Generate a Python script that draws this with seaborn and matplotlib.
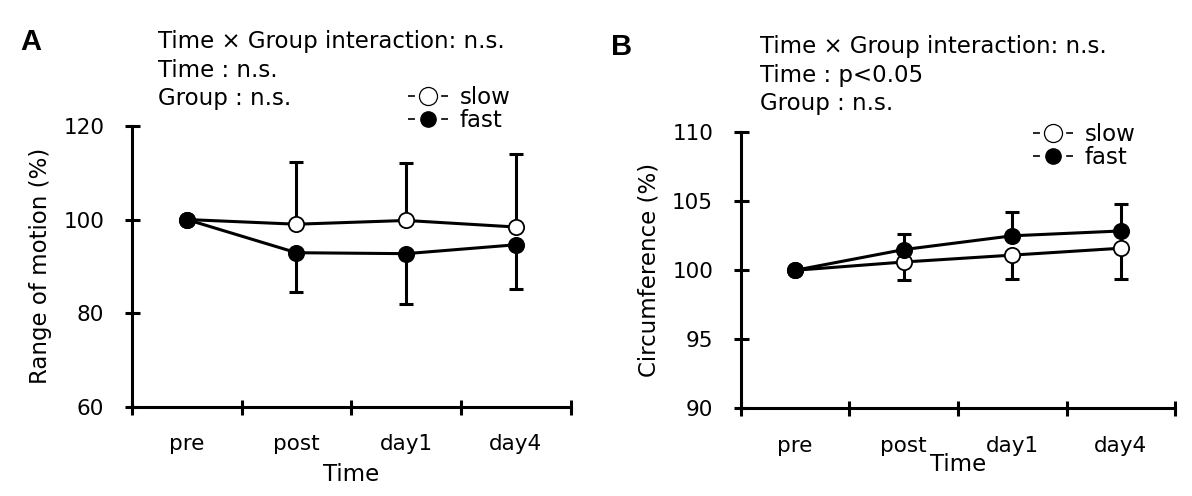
import numpy as np
import pandas as pd
import matplotlib
matplotlib.use("Agg")
import matplotlib.pyplot as plt
from matplotlib.lines import Line2D
import seaborn as sns

times = ["pre", "post", "day1", "day4"]

# panel A: range of motion (%)
rom_slow = [100, 99.0, 99.8, 98.4]
rom_slow_sd = [0, 13.2, 12.2, 15.6]
rom_fast = [100, 92.9, 92.7, 94.6]
rom_fast_sd = [0, 8.4, 10.7, 9.5]

# panel B: circumference (%)
circ_slow = [100, 100.6, 101.1, 101.6]
circ_slow_sd = [0, 1.3, 1.7, 2.2]
circ_fast = [100, 101.5, 102.5, 102.85]
circ_fast_sd = [0, 1.1, 1.75, 1.95]

sns.set_style("white", rc={"text.color": "black", "axes.labelcolor": "black",
                           "xtick.color": "black", "ytick.color": "black"})
plt.rcParams["font.family"] = ["DejaVu Sans"]

fig = plt.figure(figsize=(11.92, 4.96), dpi=100)
axA = fig.add_axes([0.1107, 0.1804, 0.368, 0.5655])
axB = fig.add_axes([0.6214, 0.1768, 0.3646, 0.5565])

x = np.arange(len(times))


def draw_panel(ax, slow, slow_sd, fast, fast_sd, slow_up, ylim, yticks, ylabel):
    df = pd.DataFrame({"x": np.concatenate([x, x]),
                       "value": slow + fast,
                       "group": ["slow"] * 4 + ["fast"] * 4})
    z = 0
    for grp, vals, sd, face in [("slow", slow, slow_sd, "white"), ("fast", fast, fast_sd, "black")]:
        up = (grp == "slow") == slow_up
        yerr = [np.zeros(4), np.array(sd)] if up else [np.array(sd), np.zeros(4)]
        ax.errorbar(x, vals, yerr=yerr, fmt="none", ecolor="black", elinewidth=2.2,
                    capsize=5, capthick=2.2, zorder=2 + z)
        sns.lineplot(data=df[df.group == grp], x="x", y="value", ax=ax, color="black",
                     linewidth=2.2, marker="o", markersize=11, markerfacecolor=face,
                     markeredgecolor="black", markeredgewidth=1.3, zorder=3 + z)
        z += 2
    ax.set_xlim(-0.5, 3.5)
    ax.set_ylim(*ylim)
    ax.set_yticks(yticks)
    ax.set_yticklabels([str(t) for t in yticks], fontsize=15.5)
    ax.set_xticks(np.arange(-0.5, 4, 1))
    ax.set_xticklabels([])
    ax.set_xticks(x, minor=True)
    ax.set_xticklabels(times, minor=True, fontsize=15.5)
    ax.tick_params(axis="both", which="major", direction="inout", length=10.8, width=2.2,
                   colors="black", left=True, bottom=True)
    ax.tick_params(axis="x", which="minor", length=0, pad=20, bottom=True)
    ax.tick_params(axis="y", pad=14.5)
    for s in ["top", "right"]:
        ax.spines[s].set_visible(False)
    for s in ["left", "bottom"]:
        ax.spines[s].set_linewidth(2.2)
        ax.spines[s].set_color("black")
    ax.set_ylabel(ylabel, fontsize=16.5, labelpad=8)
    ax.set_xlabel("Time", fontsize=16.5)
    ax.grid(False)


draw_panel(axA, rom_slow, rom_slow_sd, rom_fast, rom_fast_sd, True,
           (60, 120), [60, 80, 100, 120], "Range of motion (%)")
draw_panel(axB, circ_slow, circ_slow_sd, circ_fast, circ_fast_sd, False,
           (90, 110), [90, 95, 100, 105, 110], "Circumference (%)")
axA.xaxis.labelpad = 6
axB.xaxis.labelpad = -2


def make_handles():
    fs = 16.5
    L = 1.75 * fs
    lw = 1.2
    on = 5.0 / lw
    off = (L - 10.0) / lw
    h_slow = Line2D([], [], color="black", lw=lw, linestyle=(0, (on, off)), marker="o",
                    markersize=13, markerfacecolor="white", markeredgecolor="black", markeredgewidth=0.9)
    h_fast = Line2D([], [], color="black", lw=lw, linestyle=(0, (on, off)), marker="o",
                    markersize=11, markerfacecolor="black", markeredgecolor="black")
    return [h_slow, h_fast]


for ax, anchor in [(axA, (0.3423, 0.8272)), (axB, (0.8666, 0.7512))]:
    ax.legend(make_handles(), ["slow", "fast"], loc="upper left", bbox_to_anchor=anchor,
              bbox_transform=fig.transFigure, frameon=False, fontsize=16.5,
              handlelength=1.75, handletextpad=0.5, labelspacing=0.0, borderpad=0,
              borderaxespad=0, numpoints=1)

stats_A = ["Time × Group interaction: n.s.", "Time : n.s.", "Group : n.s."]
stats_B = ["Time × Group interaction: n.s.", "Time : p<0.05", "Group : n.s."]
for i, t in enumerate(stats_A):
    fig.text(0.1325, 0.9026 - i * 0.0571, t, fontsize=16.5, va="baseline", ha="left")
for i, t in enumerate(stats_B):
    fig.text(0.638, 0.8925 - i * 0.0571, t, fontsize=16.5, va="baseline", ha="left")
fig.text(0.0168, 0.9153, "A", fontsize=21, fontweight="bold", va="center", ha="left",
         family=["Liberation Sans"])
fig.text(0.513, 0.905, "B", fontsize=21, fontweight="bold", va="center", ha="left",
         family=["Liberation Sans"])

fig.savefig("out.png", dpi=100)
